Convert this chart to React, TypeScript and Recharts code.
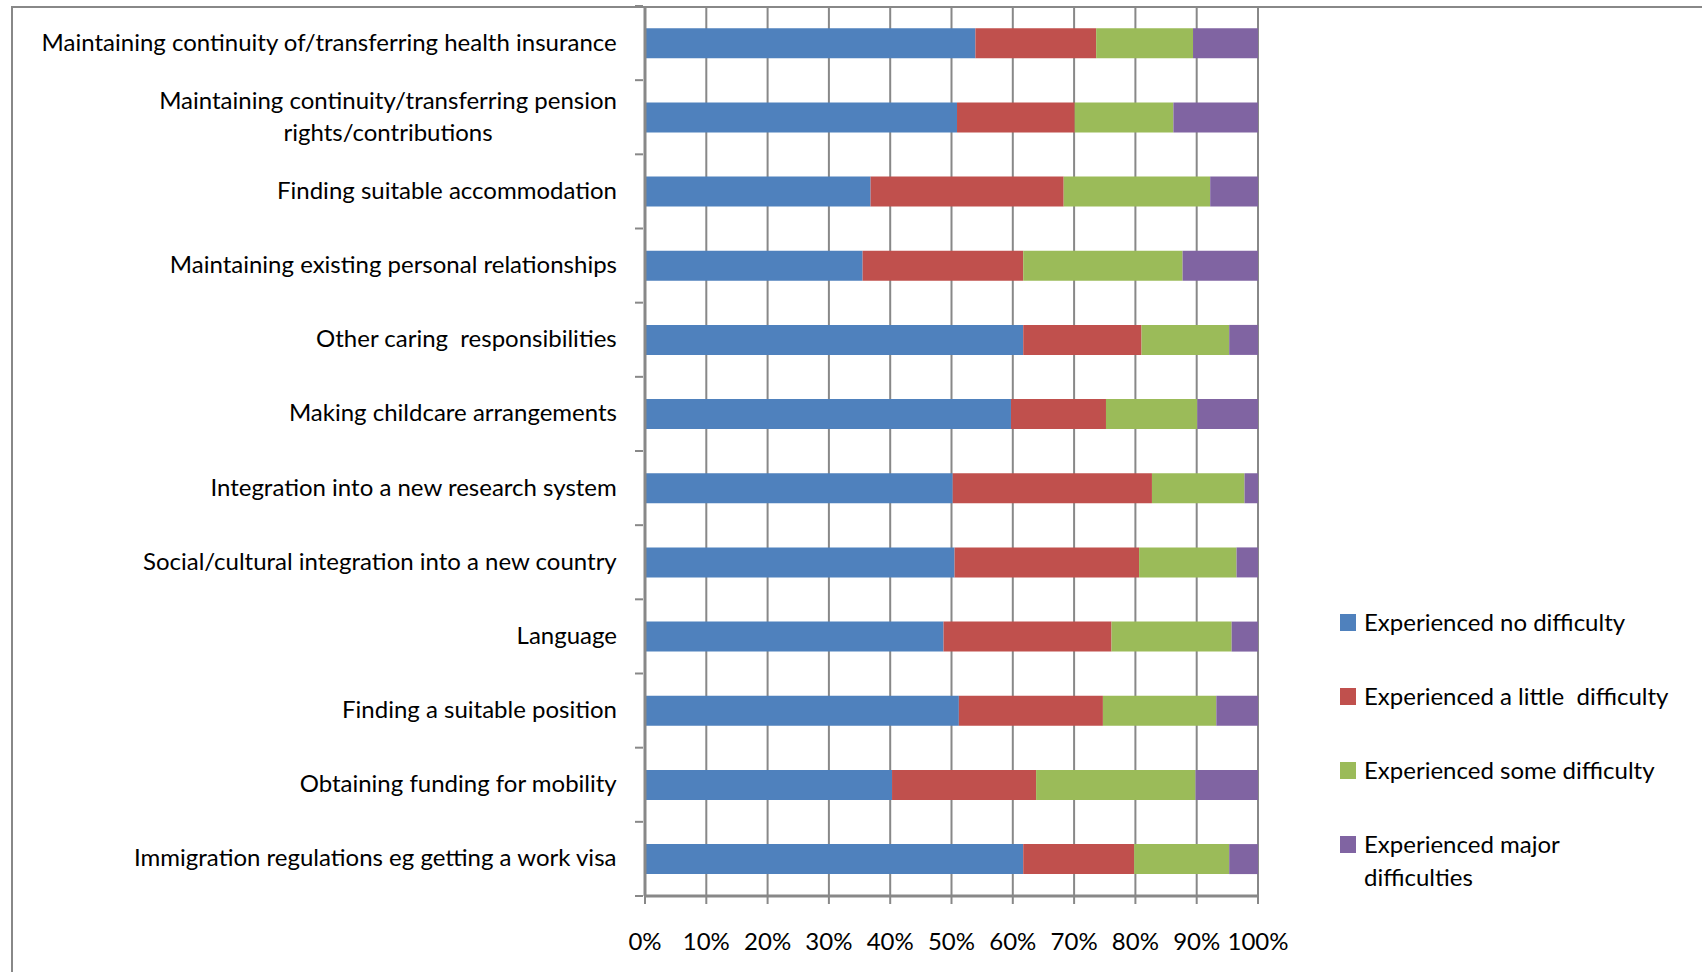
import React from "react";
import { Bar, BarChart, CartesianGrid, Legend, XAxis, YAxis } from "recharts";

const categories = [
  "Maintaining continuity of/transferring health insurance",
  "Maintaining continuity/transferring pension rights/contributions",
  "Finding suitable accommodation",
  "Maintaining existing personal relationships",
  "Other caring  responsibilities",
  "Making childcare arrangements",
  "Integration into a new research system",
  "Social/cultural integration into a new country",
  "Language",
  "Finding a suitable position",
  "Obtaining funding for mobility",
  "Immigration regulations eg getting a work visa",
];

const noDifficulty = [53.9, 50.9, 36.8, 35.5, 61.7, 59.7, 50.2, 50.5, 48.7, 51.2, 40.3, 61.7];
const littleDifficulty = [19.7, 19.2, 31.5, 26.2, 19.3, 15.5, 32.5, 30.1, 27.4, 23.5, 23.5, 18.1];
const someDifficulty = [15.8, 16.1, 23.9, 26.0, 14.3, 14.9, 15.1, 15.9, 19.6, 18.5, 26.0, 15.5];
const majorDifficulties = [10.6, 13.8, 7.8, 12.3, 4.7, 9.9, 2.2, 3.5, 4.3, 6.8, 10.2, 4.7];

const seriesNames = [
  "Experienced no difficulty",
  "Experienced a little  difficulty",
  "Experienced some difficulty",
  "Experienced major difficulties",
];
const seriesColors = ["#4F81BD", "#C0504D", "#9BBB59", "#8064A2"];
const seriesKeys = ["none", "little", "some", "major"];

const xTicks = [0, 0.1, 0.2, 0.3, 0.4, 0.5, 0.6, 0.7, 0.8, 0.9, 1];

const data = categories.map((name, i) => ({
  name,
  none: noDifficulty[i],
  little: littleDifficulty[i],
  some: someDifficulty[i],
  major: majorDifficulties[i],
}));

const FONT = "Lato, 'Noto Sans', sans-serif";
const FONT_SIZE = 24;
const GRID = "#888888";

let ctx: CanvasRenderingContext2D | null = null;
function measure(text: string) {
  if (!ctx) {
    ctx = document.createElement("canvas").getContext("2d");
  }
  if (!ctx) return text.length * FONT_SIZE * 0.5;
  ctx.font = `${FONT_SIZE}px ${FONT}`;
  return ctx.measureText(text).width;
}

function wrap(text: string, maxWidth: number) {
  const words = text.split(" ");
  const lines: string[] = [];
  let cur = "";
  for (const w of words) {
    const next = cur ? cur + " " + w : w;
    if (cur && measure(next) > maxWidth) {
      lines.push(cur);
      cur = w;
    } else {
      cur = next;
    }
  }
  if (cur) lines.push(cur);
  return lines;
}

// category label + Excel-style tick marks on the band boundaries
function CategoryTick(props: any) {
  const { x, y, payload, index, visibleTicksCount } = props;
  const half = payload && payload.offset ? payload.offset : 37.1;
  const lines = wrap(payload.value, 600);
  const blockW = Math.max(...lines.map(measure));
  const cx = x - 26 - blockW / 2;
  const lh = 31.5;
  const y0 = y - 2 - ((lines.length - 1) * lh) / 2;
  const isLast = index === visibleTicksCount - 1;
  return (
    <g>
      <line x1={x - 8} x2={x} y1={y - half} y2={y - half} stroke={GRID} strokeWidth={2} />
      {isLast && (
        <line x1={x - 8} x2={x} y1={y + half} y2={y + half} stroke={GRID} strokeWidth={2} />
      )}
      {lines.map((l, i) => (
        <text
          key={i}
          x={cx}
          y={y0 + i * lh}
          textAnchor="middle"
          dominantBaseline="central"
          fill="#000"
          fontSize={FONT_SIZE}
          fontFamily={FONT}
          style={{ whiteSpace: "pre" }}
        >
          {l}
        </text>
      ))}
    </g>
  );
}

function renderLegend(props: any) {
  const { payload } = props;
  const textW = Math.ceil(measure(seriesNames[1])) + 4;
  return (
    <div style={{ fontFamily: FONT, fontSize: FONT_SIZE, color: "#000" }}>
      {(payload || []).map((entry: any, i: number) => (
        <div
          key={i}
          style={{ display: "flex", alignItems: "flex-start", height: 74 }}
        >
          <div
            style={{
              width: 16,
              height: 17,
              background: entry.color,
              marginTop: 9,
              marginRight: 8,
              flex: "none",
            }}
          />
          <div style={{ width: textW, lineHeight: "33px", whiteSpace: "pre-wrap" }}>
            {entry.value}
          </div>
        </div>
      ))}
    </div>
  );
}

export default function App() {
  return (
    <div
      style={{
        position: "absolute",
        left: 0,
        top: 0,
        width: 1702,
        height: 972,
        background: "#fff",
        overflow: "hidden",
      }}
    >
      <div
        style={{
          position: "absolute",
          left: 11,
          top: 6,
          width: 1702,
          height: 972,
          borderTop: `2px solid ${GRID}`,
          borderLeft: `2px solid ${GRID}`,
        }}
      />
      <div style={{ position: "absolute", left: 0, top: 0 }}>
        <BarChart
          width={1702}
          height={972}
          data={data}
          layout="vertical"
          stackOffset="expand"
          barCategoryGap="30%"
          margin={{ top: 6, right: 444, bottom: 0, left: 0 }}
        >
          <CartesianGrid
            vertical
            horizontal={false}
            stroke={GRID}
            strokeWidth={2}
            strokeOpacity={1}
          />
          <XAxis
            type="number"
            domain={[0, 1]}
            ticks={xTicks}
            tickFormatter={(v) => `${Math.round(v * 100)}%`}
            tick={{ fill: "#000", fontSize: FONT_SIZE, fontFamily: FONT }}
            axisLine={{ stroke: GRID, strokeWidth: 3 }}
            tickLine={{ stroke: GRID, strokeWidth: 2 }}
            tickSize={8}
            tickMargin={29}
            height={76}
            interval={0}
          />
          <YAxis
            type="category"
            dataKey="name"
            width={645}
            tick={<CategoryTick />}
            tickLine={false}
            tickSize={0}
            axisLine={{ stroke: GRID, strokeWidth: 3 }}
            interval={0}
          />
          <Legend
            layout="vertical"
            align="center"
            verticalAlign="middle"
            content={renderLegend}
            itemSorter={(item: any) => seriesNames.indexOf(item.value)}
            wrapperStyle={{ left: 1340, top: 605, width: 360 }}
          />
          {seriesKeys.map((k, i) => (
            <Bar
              key={k}
              dataKey={k}
              name={seriesNames[i]}
              stackId="a"
              fill={seriesColors[i]}
              isAnimationActive={false}
            />
          ))}
        </BarChart>
      </div>
    </div>
  );
}
